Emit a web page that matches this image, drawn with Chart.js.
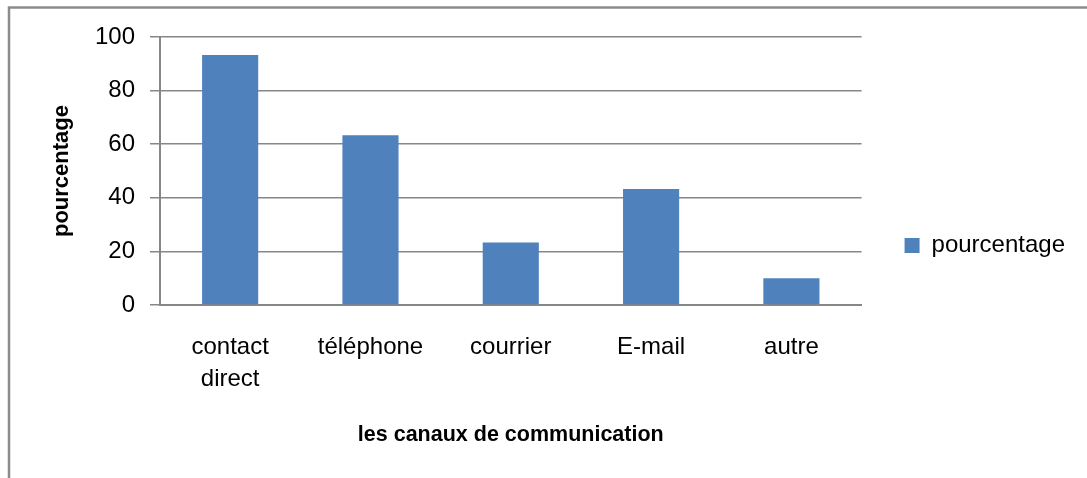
<!DOCTYPE html>
<html>
<head>
<meta charset="utf-8">
<script src="https://cdn.jsdelivr.net/npm/chart.js@4"></script>
<style>
  html, body { margin: 0; padding: 0; background: #fff; }
  #box { width: 1087px; height: 478px; }
</style>
</head>
<body>
<div id="box"><canvas id="canauxChart"></canvas></div>
<script>
// Survey results: share of respondents per communication channel
const canaux = [['contact', 'direct'], 'téléphone', 'courrier', 'E-mail', 'autre'];
const pourcentages = [93.3, 63.3, 23.3, 43.3, 10];
const yTicks = [0, 20, 40, 60, 80, 100];

const gris = '#878787';
const fontFamily = '"Liberation Sans", Arial, sans-serif';

// frame around the whole figure (only top and left edges fall inside the canvas)
const cadre = {
  id: 'cadre',
  beforeDraw(chart) {
    const ctx = chart.ctx;
    ctx.save();
    ctx.strokeStyle = '#8c8c8c';
    ctx.lineWidth = 2.5;
    ctx.beginPath();
    ctx.moveTo(9, chart.height + 2);
    ctx.lineTo(9, 7.5);
    ctx.lineTo(chart.width + 2, 7.5);
    ctx.stroke();
    ctx.restore();
  }
};

const ctx = document.getElementById('canauxChart').getContext('2d');
new Chart(ctx, {
  type: 'bar',
  data: {
    labels: canaux,
    datasets: [{
      label: 'pourcentage',
      data: pourcentages,
      backgroundColor: '#4F81BD',
      barPercentage: 0.4,
      categoryPercentage: 1
    }]
  },
  options: {
    responsive: true,
    maintainAspectRatio: false,
    animation: false,
    layout: { padding: { top: 37, left: 0, right: 12, bottom: 24 } },
    plugins: {
      tooltip: { enabled: false },
      legend: {
        position: 'right',
        maxWidth: 226,
        labels: {
          boxWidth: 15,
          boxHeight: 15,
          padding: 43,
          color: '#000',
          font: { family: fontFamily, size: 24 }
        }
      }
    },
    scales: {
      x: {
        grid: { display: false, drawTicks: false, tickLength: 0 },
        border: { display: true, color: gris, width: 2 },
        ticks: {
          color: '#000',
          padding: 26,
          font: { family: fontFamily, size: 24, lineHeight: 1.33 }
        },
        title: {
          display: true,
          text: 'les canaux de communication',
          color: '#000',
          font: { family: fontFamily, size: 21.5, weight: 'bold' },
          padding: { top: 0, bottom: 6 }
        },
        afterFit(scale) { scale.height = 149; }
      },
      y: {
        min: 0,
        max: 100,
        afterBuildTicks(scale) { scale.ticks = yTicks.map(v => ({ value: v })); },
        grid: { color: gris, lineWidth: 1.5, tickLength: 10 },
        border: { display: true, color: gris, width: 2 },
        ticks: {
          color: '#000',
          padding: 15,
          font: { family: fontFamily, size: 24 }
        },
        title: {
          display: true,
          text: 'pourcentage',
          color: '#000',
          font: { family: fontFamily, size: 22, weight: 'bold' },
          padding: { top: 49, bottom: 0 }
        },
        afterFit(scale) { scale.width = 160; }
      }
    }
  },
  plugins: [cadre]
});
</script>
</body>
</html>
